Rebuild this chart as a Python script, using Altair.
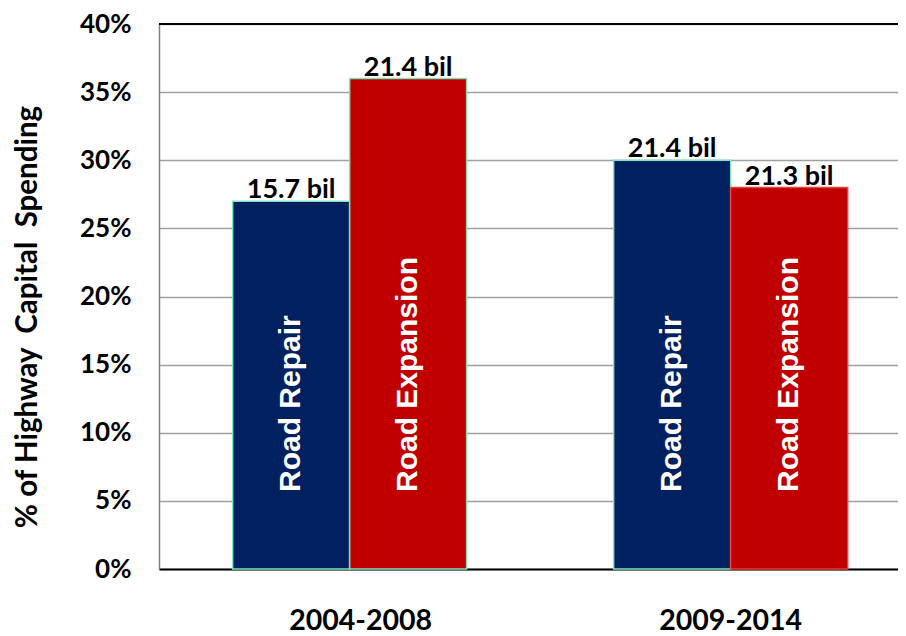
import altair as alt
import pandas as pd

periods = ["2004-2008", "2004-2008", "2009-2014", "2009-2014"]
types = ["Road Repair", "Road Expansion", "Road Repair", "Road Expansion"]
shares = [0.27, 0.36, 0.30, 0.28]
value_labels = ["15.7 bil", "21.4 bil", "21.4 bil", "21.3 bil"]

type_order = ["Road Repair", "Road Expansion"]
colors = ["#002060", "#C00000"]

df = pd.DataFrame({"period": periods, "type": types, "share": shares, "vlabel": value_labels})

W, H = 739, 545

x_enc = alt.X(
    "period:N",
    scale=alt.Scale(paddingInner=0.3858, paddingOuter=0.1627, align=0.594),
    axis=alt.Axis(
        title=None, labelAngle=0, ticks=False, domainColor="#000000", domainWidth=2,
        labelFont="Lato", labelFontSize=28.5, labelFontWeight="bold", labelColor="#000000",
        labelPadding=37, grid=False,
        labelOffset={"condition": {"test": "datum.value == '2004-2008'", "value": 11}, "value": 0},
    ),
)
xoff = alt.XOffset("type:N", sort=type_order, scale=alt.Scale(paddingInner=0, paddingOuter=0))
y_enc = alt.Y(
    "share:Q",
    scale=alt.Scale(domain=[0, 0.4]),
    axis=alt.Axis(
        format="%", values=[0, 0.05, 0.1, 0.15, 0.2, 0.25, 0.3, 0.35, 0.4],
        title="% of Highway\u00a0 Capital\u00a0 Spending", ticks=False,
        domainColor="#808080", domainWidth=1.5,
        gridColor="#a0a0a0", gridWidth=1.5,
        labelFont="Lato", labelFontSize=26, labelFontWeight="bold", labelColor="#000000",
        labelPadding=28, titleFont="Lato", titleFontSize=29.5, titleFontWeight="bold",
        titleColor="#000000", titlePadding=37, titleY=H / 2 + 20,
    ),
)

bars = alt.Chart(df).mark_bar(strokeWidth=1.5).encode(
    x=x_enc,
    xOffset=xoff,
    y=y_enc,
    color=alt.Color("type:N", scale=alt.Scale(domain=type_order, range=colors), legend=None),
    stroke=alt.condition(
        "datum.period == '2009-2014' && datum.type == 'Road Expansion'",
        alt.value("#e8403a"),
        alt.value("#7ee6bd"),
    ),
)

vals = alt.Chart(df).mark_text(
    font="Lato", fontSize=27, fontWeight="bold", color="#000000", baseline="alphabetic", dy=-3
).encode(x="period:N", xOffset=alt.XOffset("type:N", sort=type_order), y="share:Q", text="vlabel:N")

inbar = alt.Chart(df).mark_text(
    font="Liberation Sans", fontSize=30, fontWeight="bold", color="#ffffff",
    angle=270, align="left", baseline="middle",
).encode(
    x="period:N", xOffset=alt.XOffset("type:N", sort=type_order),
    y=alt.datum(0.0565), text="type:N",
)

top = alt.Chart(df).mark_rule(color="#000000", strokeWidth=2).encode(
    y=alt.datum(0.4), x=alt.value(0), x2=alt.value(W)
)

chart = alt.layer(bars, top, vals, inbar).properties(
    width=W, height=H,
    autosize=alt.AutoSizeParams(type="none"),
    padding={"left": 151, "top": 16, "right": 0, "bottom": 67},
).configure_view(stroke=None).configure(background="#ffffff")

chart.save("out.html", embed_options={"renderer": "svg", "actions": False})
